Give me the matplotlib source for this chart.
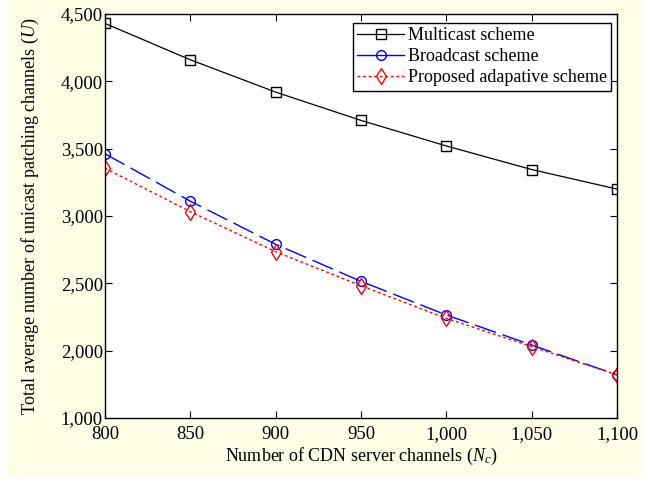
import matplotlib
matplotlib.use("Agg")
import matplotlib.pyplot as plt
from matplotlib.lines import Line2D
from matplotlib.patches import Rectangle
from matplotlib.ticker import FuncFormatter

# DATA
channels = [800, 850, 900, 950, 1000, 1050, 1100]
multicast = [4430, 4160, 3920, 3710, 3520, 3345, 3200]
broadcast = [3462, 3110, 2790, 2515, 2265, 2042, 1820]
proposed = [3355, 3032, 2735, 2482, 2240, 2030, 1820]
labels = ["Multicast scheme", "Broadcast scheme", "Proposed adapative scheme"]
yticks = [1500, 2000, 2500, 3000, 3500, 4000, 4500]
ytick_labels = ["1,000", "2,000", "2,500", "3,000", "3,500", "4,000", "4,500"]

plt.rcParams["font.family"] = ["Liberation Serif", "DejaVu Serif"]
plt.rcParams["mathtext.fontset"] = "custom"
plt.rcParams["mathtext.it"] = "Liberation Serif:italic"
plt.rcParams["mathtext.rm"] = "Liberation Serif"
fs_tick = 13.5
fs = 13

fig = plt.figure(figsize=(6.48, 4.83), dpi=100)
fig.patches.append(Rectangle((7 / 648, 5 / 483), 635 / 648, 478 / 483,
                             transform=fig.transFigure, facecolor="#FEFDE6",
                             edgecolor="none", zorder=-10))
ax = fig.add_axes([105 / 648, 65 / 483, 512 / 648, 404 / 483])
ax.set_facecolor("white")

ax.plot(channels, multicast, color="k", lw=0.9, marker="s", ms=7.2,
        mfc="none", mec="k", mew=1.0)
ax.plot(channels, broadcast, color="b", lw=1.0, dashes=(16, 5), marker="o",
        ms=7, mfc="none", mec="b", mew=1.0)
ax.plot(channels, proposed, color="r", lw=1.0, dashes=(2, 2), marker="d",
        ms=8.5, mfc="none", mec="r", mew=1.0)

ax.set_xlim(800, 1100)
ax.set_ylim(1500, 4500)
ax.set_xticks(channels)
ax.set_yticks(yticks)
ax.set_yticklabels(ytick_labels)
ax.xaxis.set_major_formatter(FuncFormatter(lambda v, p: f"{int(v):,}"))
ax.tick_params(direction="in", length=5, width=0.8, labelsize=fs_tick,
               top=True, right=True)
ax.tick_params(axis="y", pad=1.5)
ax.tick_params(axis="x", pad=5.5)
for s in ax.spines.values():
    s.set_linewidth(1.0)

ax.set_xlabel(r"Number of CDN server channels ($N_c$)", fontsize=fs, labelpad=2)
ax.set_ylabel(r"Total average number of unicast patching channels ($U$)",
              fontsize=fs, labelpad=14)

handles = [
    Line2D([], [], color="k", lw=0.9, marker="s", ms=7.2, mfc="none", mec="k"),
    Line2D([], [], color="b", lw=1.0, marker="o", ms=7, mfc="none", mec="b"),
    Line2D([], [], color="r", lw=1.0, dashes=(2, 2), marker="d", ms=8.5,
           mfc="none", mec="r"),
]
leg = ax.legend(handles, labels, loc="upper right", fontsize=fs,
                bbox_to_anchor=(0.989, 0.978), frameon=True, fancybox=False,
                edgecolor="k", framealpha=1, handlelength=2.6,
                handletextpad=0.2, labelspacing=0.22, borderpad=0.25,
                borderaxespad=0)
leg.get_frame().set_linewidth(1.0)

fig.savefig("out.png", dpi=100, facecolor="white")
